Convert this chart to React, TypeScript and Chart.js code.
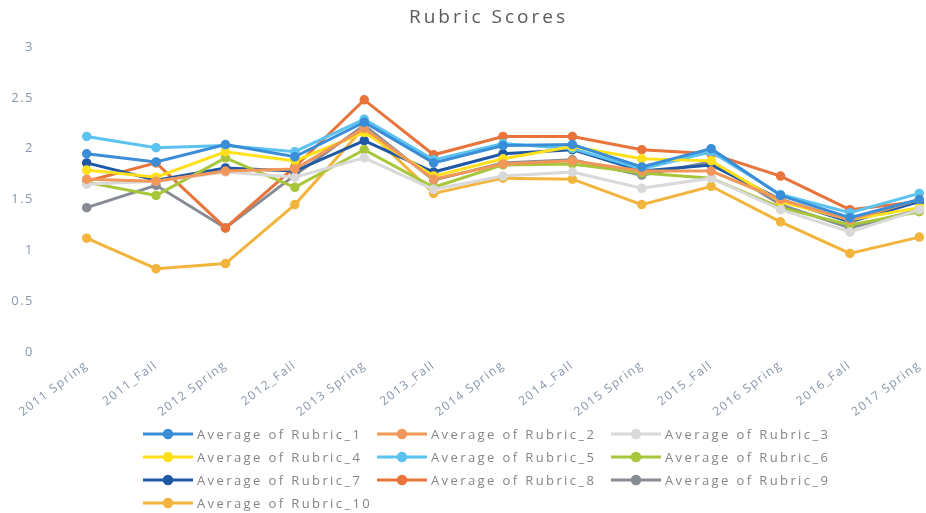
import React, { useEffect, useRef } from "react";
import { Chart, registerables } from "chart.js";

Chart.register(...registerables);

const chartTitle = "Rubric Scores";

const categories = [
  "2011 Spring",
  "2011_Fall",
  "2012 Spring",
  "2012_Fall",
  "2013 Spring",
  "2013_Fall",
  "2014 Spring",
  "2014_Fall",
  "2015 Spring",
  "2015_Fall",
  "2016 Spring",
  "2016_Fall",
  "2017 Spring",
];

const yTicks = [0, 0.5, 1, 1.5, 2, 2.5, 3];

const seriesNames = [
  "Average of Rubric_1",
  "Average of Rubric_2",
  "Average of Rubric_3",
  "Average of Rubric_4",
  "Average of Rubric_5",
  "Average of Rubric_6",
  "Average of Rubric_7",
  "Average of Rubric_8",
  "Average of Rubric_9",
  "Average of Rubric_10",
];

const rubric1 = [1.95, 1.87, 2.04, 1.92, 2.26, 1.86, 2.03, 2.04, 1.82, 2.0, 1.54, 1.32, 1.5];
const rubric2 = [1.7, 1.68, 1.78, 1.8, 2.2, 1.7, 1.85, 1.88, 1.78, 1.78, 1.5, 1.3, 1.5];
const rubric3 = [1.65, 1.68, 1.77, 1.72, 1.91, 1.6, 1.73, 1.77, 1.61, 1.71, 1.4, 1.18, 1.4];
const rubric4 = [1.79, 1.72, 1.97, 1.88, 2.16, 1.73, 1.9, 2.02, 1.9, 1.88, 1.48, 1.3, 1.42];
const rubric5 = [2.12, 2.01, 2.03, 1.97, 2.29, 1.89, 2.05, 2.0, 1.8, 1.97, 1.55, 1.37, 1.56];
const rubric6 = [1.67, 1.54, 1.91, 1.62, 1.99, 1.62, 1.84, 1.85, 1.76, 1.71, 1.42, 1.25, 1.38];
const rubric7 = [1.86, 1.69, 1.81, 1.78, 2.08, 1.77, 1.95, 1.99, 1.78, 1.84, 1.5, 1.28, 1.48];
const rubric8 = [1.68, 1.86, 1.22, 1.82, 2.48, 1.94, 2.12, 2.12, 1.99, 1.95, 1.73, 1.4, 1.48];
const rubric9 = [1.42, 1.64, 1.22, 1.74, 2.23, 1.69, 1.86, 1.89, 1.74, 1.87, 1.45, 1.22, 1.4];
const rubric10 = [1.12, 0.82, 0.87, 1.45, 2.21, 1.56, 1.71, 1.7, 1.45, 1.63, 1.28, 0.97, 1.13];

const seriesValues = [rubric1, rubric2, rubric3, rubric4, rubric5, rubric6, rubric7, rubric8, rubric9, rubric10];

const seriesColors = [
  "#3a8ed8",
  "#f2975a",
  "#d9d9d9",
  "#ffe01a",
  "#5cc2f0",
  "#a8c63a",
  "#1f58a4",
  "#e8743b",
  "#878c94",
  "#f2b43d",
];

const FONT = '"Open Sans", "Liberation Sans", sans-serif';

const spacingPlugin = {
  id: "textSpacing",
  beforeUpdate(chart: any) {
    (chart.ctx as any).letterSpacing = "1.5px";
  },
  beforeDraw(chart: any) {
    (chart.ctx as any).letterSpacing = "1.5px";
  },
};

const titlePlugin = {
  id: "customTitle",
  afterDraw(chart: any) {
    const ctx = chart.ctx as CanvasRenderingContext2D;
    ctx.save();
    ctx.font = `19px ${FONT}`;
    (ctx as any).letterSpacing = "3px";
    ctx.fillStyle = "#5a5a5a";
    ctx.textAlign = "center";
    ctx.textBaseline = "middle";
    ctx.fillText(chartTitle, chart.width / 2 + 1, 18);
    ctx.restore();
  },
};

const legendPlugin = {
  id: "gridLegend",
  afterDraw(chart: any) {
    const ctx = chart.ctx as CanvasRenderingContext2D;
    const startX = 143;
    const startY = 434;
    const colW = 234;
    const rowH = 23;
    ctx.save();
    chart.data.datasets.forEach((ds: any, i: number) => {
      const col = i % 3;
      const row = Math.floor(i / 3);
      const x = startX + col * colW;
      const y = startY + row * rowH;
      ctx.strokeStyle = ds.borderColor;
      ctx.lineWidth = 3;
      ctx.beginPath();
      ctx.moveTo(x, y);
      ctx.lineTo(x + 50, y);
      ctx.stroke();
      ctx.beginPath();
      ctx.arc(x + 25, y, 4.5, 0, Math.PI * 2);
      ctx.fillStyle = ds.borderColor;
      ctx.fill();
      ctx.lineWidth = 1.5;
      ctx.stroke();
      ctx.font = `13px ${FONT}`;
      (ctx as any).letterSpacing = "2.4px";
      ctx.fillStyle = "#858585";
      ctx.textAlign = "left";
      ctx.textBaseline = "middle";
      ctx.fillText(ds.label, x + 54, y + 1);
    });
    ctx.restore();
  },
};

export default function App() {
  const canvasRef = useRef<HTMLCanvasElement | null>(null);

  useEffect(() => {
    if (!canvasRef.current) return;
    const chart = new Chart(canvasRef.current, {
      type: "line",
      data: {
        labels: categories,
        datasets: seriesValues.map((vals, i) => ({
          label: seriesNames[i],
          data: vals,
          borderColor: seriesColors[i],
          backgroundColor: seriesColors[i],
          pointBackgroundColor: seriesColors[i],
          pointBorderColor: seriesColors[i],
          borderWidth: 3,
          pointRadius: 4,
          pointBorderWidth: 1.5,
          tension: 0,
          fill: false,
        })),
      },
      options: {
        responsive: false,
        animation: false,
        layout: { padding: { top: 47, right: 21, left: 0, bottom: 0 } },
        plugins: {
          legend: { display: false },
          title: { display: false },
          tooltip: { enabled: false },
        },
        scales: {
          x: {
            offset: true,
            grid: { display: false, drawTicks: false },
            border: { display: false },
            afterFit(scale: any) {
              scale.height = 161;
            },
            ticks: {
              autoSkip: false,
              minRotation: 37,
              maxRotation: 37,
              padding: 6,
              color: "#8796aa",
              font: { family: FONT, size: 12 },
            },
          },
          y: {
            min: 0,
            max: 3,
            afterFit(scale: any) {
              scale.width = 52;
            },
            afterBuildTicks(scale: any) {
              scale.ticks = yTicks.map((v) => ({ value: v }));
            },
            grid: { display: false, drawTicks: false },
            border: { display: false },
            ticks: {
              padding: 18,
              color: "#8898ae",
              font: { family: FONT, size: 13 },
              callback: (v: any) => String(v),
            },
          },
        },
      },
      plugins: [spacingPlugin, titlePlugin, legendPlugin],
    });
    return () => chart.destroy();
  }, []);

  return (
    <div
      style={{
        position: "fixed",
        left: 0,
        top: 0,
        width: 926,
        height: 513,
        overflow: "hidden",
        background: "#ffffff",
      }}
    >
      <canvas ref={canvasRef} width={975} height={513} style={{ display: "block" }} />
    </div>
  );
}
